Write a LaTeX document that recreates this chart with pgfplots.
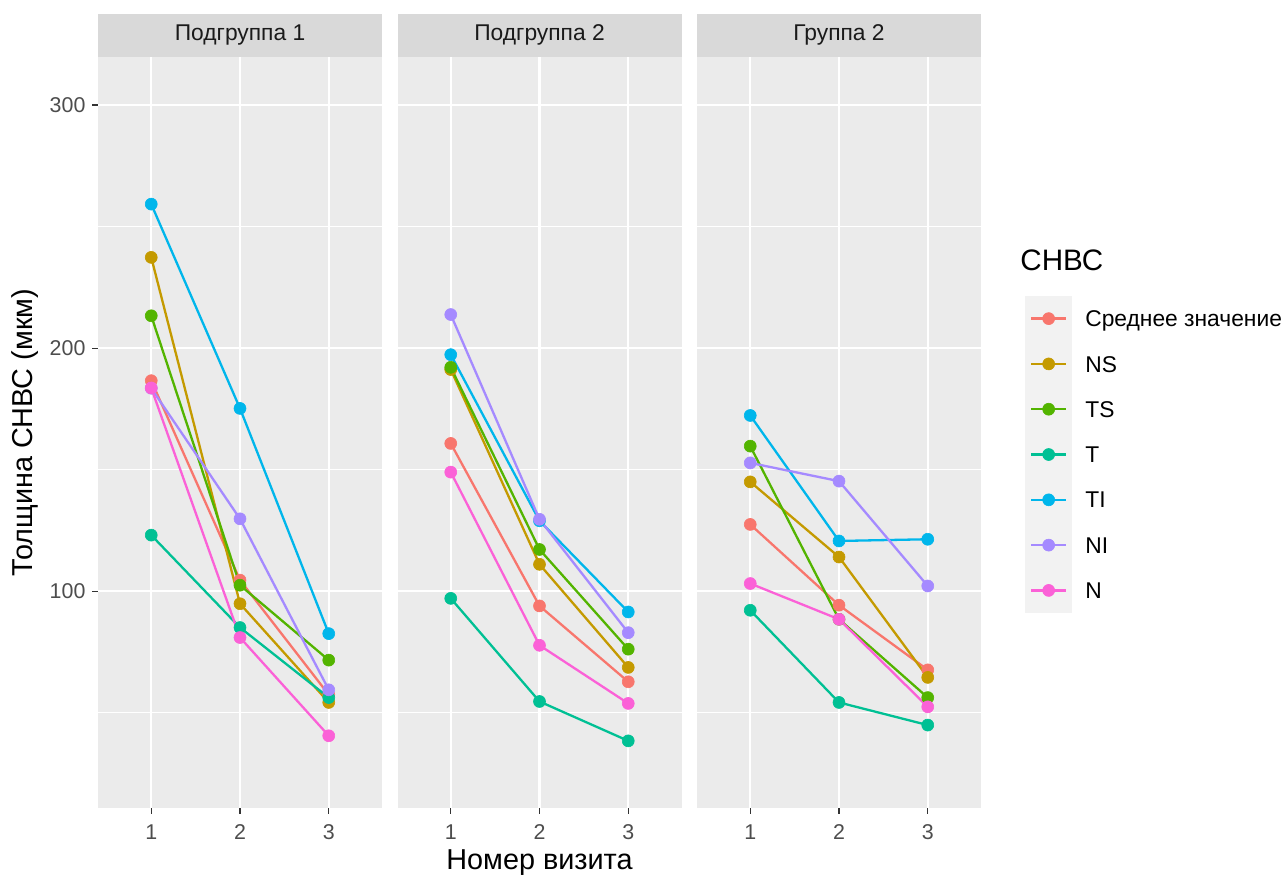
\documentclass[border=0pt]{standalone}
\usepackage{fontspec}
\setmainfont{Liberation Sans}
\usepackage{pgfplots}
\usepackage{pgfplotstable}
\pgfplotsset{compat=1.18}

\definecolor{cmean}{HTML}{F8766D}
\definecolor{cNS}{HTML}{C49A00}
\definecolor{cTS}{HTML}{53B400}
\definecolor{cT}{HTML}{00C094}
\definecolor{cTI}{HTML}{00B6EB}
\definecolor{cNI}{HTML}{A58AFF}
\definecolor{cN}{HTML}{FB61D7}
\definecolor{panelbg}{HTML}{EBEBEB}
\definecolor{stripbg}{HTML}{D9D9D9}
\definecolor{keybg}{HTML}{F2F2F2}
\definecolor{ticktext}{HTML}{4D4D4D}
\definecolor{tickline}{HTML}{333333}
\definecolor{striptext}{HTML}{1A1A1A}

% RNFL thickness by visit, one table per facet
\pgfplotstableread{
visit mean  NS    TS    T     TI    NI    N
1     186.6 237.3 213.3 123.1 259.2 183.5 183.6
2     104.6 94.9  102.5 85.1  175.2 129.8 81.0
3     57.5  54.3  71.7  56.3  82.6  59.5  40.6
}\tabA
\pgfplotstableread{
visit mean  NS    TS    T     TI    NI    N
1     160.8 191.2 192.1 97.1  197.3 213.8 149.0
2     94.0  111.1 117.2 54.7  129.0 129.6 77.8
3     62.8  68.7  76.2  38.5  91.5  83.0  53.9
}\tabB
\pgfplotstableread{
visit mean  NS    TS    T     TI    NI    N
1     127.5 145.0 159.7 92.2  172.3 152.8 103.2
2     94.3  114.1 88.5  54.3  120.7 145.3 88.5
3     67.7  64.6  56.3  45.0  121.4 102.2 52.5
}\tabC

\newcommand{\tickfont}{\fontsize{10.7}{12.8}\selectfont}
\newcommand{\txtfont}{\fontsize{11.4}{13.7}\selectfont}
\newcommand{\ttlfont}{\fontsize{14.4}{17.3}\selectfont}

\pgfplotsset{
  facet/.style={
    scale only axis, width=142pt, height=375.5pt,
    anchor=south west,
    xmin=0.4, xmax=3.6, ymin=10.9, ymax=319.7,
    xtick={1,2,3}, ytick={100,200,300}, minor ytick={50,150,250},
    axis background/.style={fill=panelbg},
    axis line style={draw=none},
    xmajorgrids, ymajorgrids, yminorgrids,
    major grid style={white, line width=1.1pt},
    minor grid style={white, line width=0.55pt},
    tick align=outside, tick pos=left,
    major tick length=2.75pt, minor tick length=0pt,
    tick style={tickline, line width=0.6pt},
    ticklabel style={font=\tickfont, text=ticktext},
    xticklabel style={yshift=-2pt},
    /pgf/number format/assume math mode=true,
    every axis title shift=0pt,
    title style={at={(0.5,1)}, anchor=south, yshift=0pt, fill=stripbg,
      minimum width=142pt, minimum height=21.5pt, inner sep=0pt,
      text=striptext, font=\txtfont},
    label style={font=\ttlfont, text=black},
  },
  lines/.style={color=c#1, line width=1.15pt, no markers, forget plot},
  dots/.style={color=c#1, only marks, mark=*, mark size=3pt,
    mark options={line width=0.3pt}, forget plot},
}

\begin{document}
\begin{tikzpicture}
\path[use as bounding box] (0pt,0pt) rectangle (643pt,437pt);

\begin{axis}[facet, at={(49pt,33pt)}, title={Подгруппа 1},
  ylabel={Толщина СНВС (мкм)},
  ylabel style={at={(axis description cs:-0.257,0.5)}, anchor=center}]
  \pgfplotsinvokeforeach{mean,NS,TS,T,TI,NI,N}{
    \addplot[lines=#1] table[x=visit, y=#1]{\tabA};}
  \pgfplotsinvokeforeach{mean,NS,TS,T,TI,NI,N}{
    \addplot[dots=#1] table[x=visit, y=#1]{\tabA};}
\end{axis}

\begin{axis}[facet, at={(198.75pt,33pt)}, title={Подгруппа 2},
  yticklabels={}, ytick style={draw=none},
  xlabel={Номер визита},
  xlabel style={at={(axis description cs:0.5,-0.0725)}, anchor=center}]
  \pgfplotsinvokeforeach{mean,NS,TS,T,TI,NI,N}{
    \addplot[lines=#1] table[x=visit, y=#1]{\tabB};}
  \pgfplotsinvokeforeach{mean,NS,TS,T,TI,NI,N}{
    \addplot[dots=#1] table[x=visit, y=#1]{\tabB};}
\end{axis}

\begin{axis}[facet, at={(348.5pt,33pt)}, title={Группа 2},
  yticklabels={}, ytick style={draw=none},
  legend style={at={(1.155,0.6818)}, anchor=north west, draw=none,
    fill=none, inner sep=0pt, outer sep=0pt, row sep=0pt,
    font=\txtfont,
    nodes={inner sep=0pt, text=black, text height=8.16pt, text depth=0pt},
    /tikz/every odd column/.append style={column sep=6.5pt}},
  legend cell align=left,
  legend image code/.code={
    \fill[keybg] (0pt,-10.75pt) rectangle (22.5pt,10.75pt);
    \draw[#1, mark repeat=2, mark phase=2]
      plot coordinates {(2.5pt,0pt) (11.25pt,0pt) (20pt,0pt)};
  },
  legend entries={Среднее значение, NS, TS, T, TI, NI, N}]
  \pgfplotsinvokeforeach{mean,NS,TS,T,TI,NI,N}{
    \addlegendimage{color=c#1, line width=1.15pt, mark=*, mark size=3pt,
      mark options={line width=0.3pt}}}
  \pgfplotsinvokeforeach{mean,NS,TS,T,TI,NI,N}{
    \addplot[lines=#1] table[x=visit, y=#1]{\tabC};}
  \pgfplotsinvokeforeach{mean,NS,TS,T,TI,NI,N}{
    \addplot[dots=#1] table[x=visit, y=#1]{\tabC};}
\end{axis}

\node[anchor=west, font=\fontsize{14.8}{17.8}\selectfont, inner sep=0pt]
  at (510pt,307pt) {СНВС};
\end{tikzpicture}
\end{document}
